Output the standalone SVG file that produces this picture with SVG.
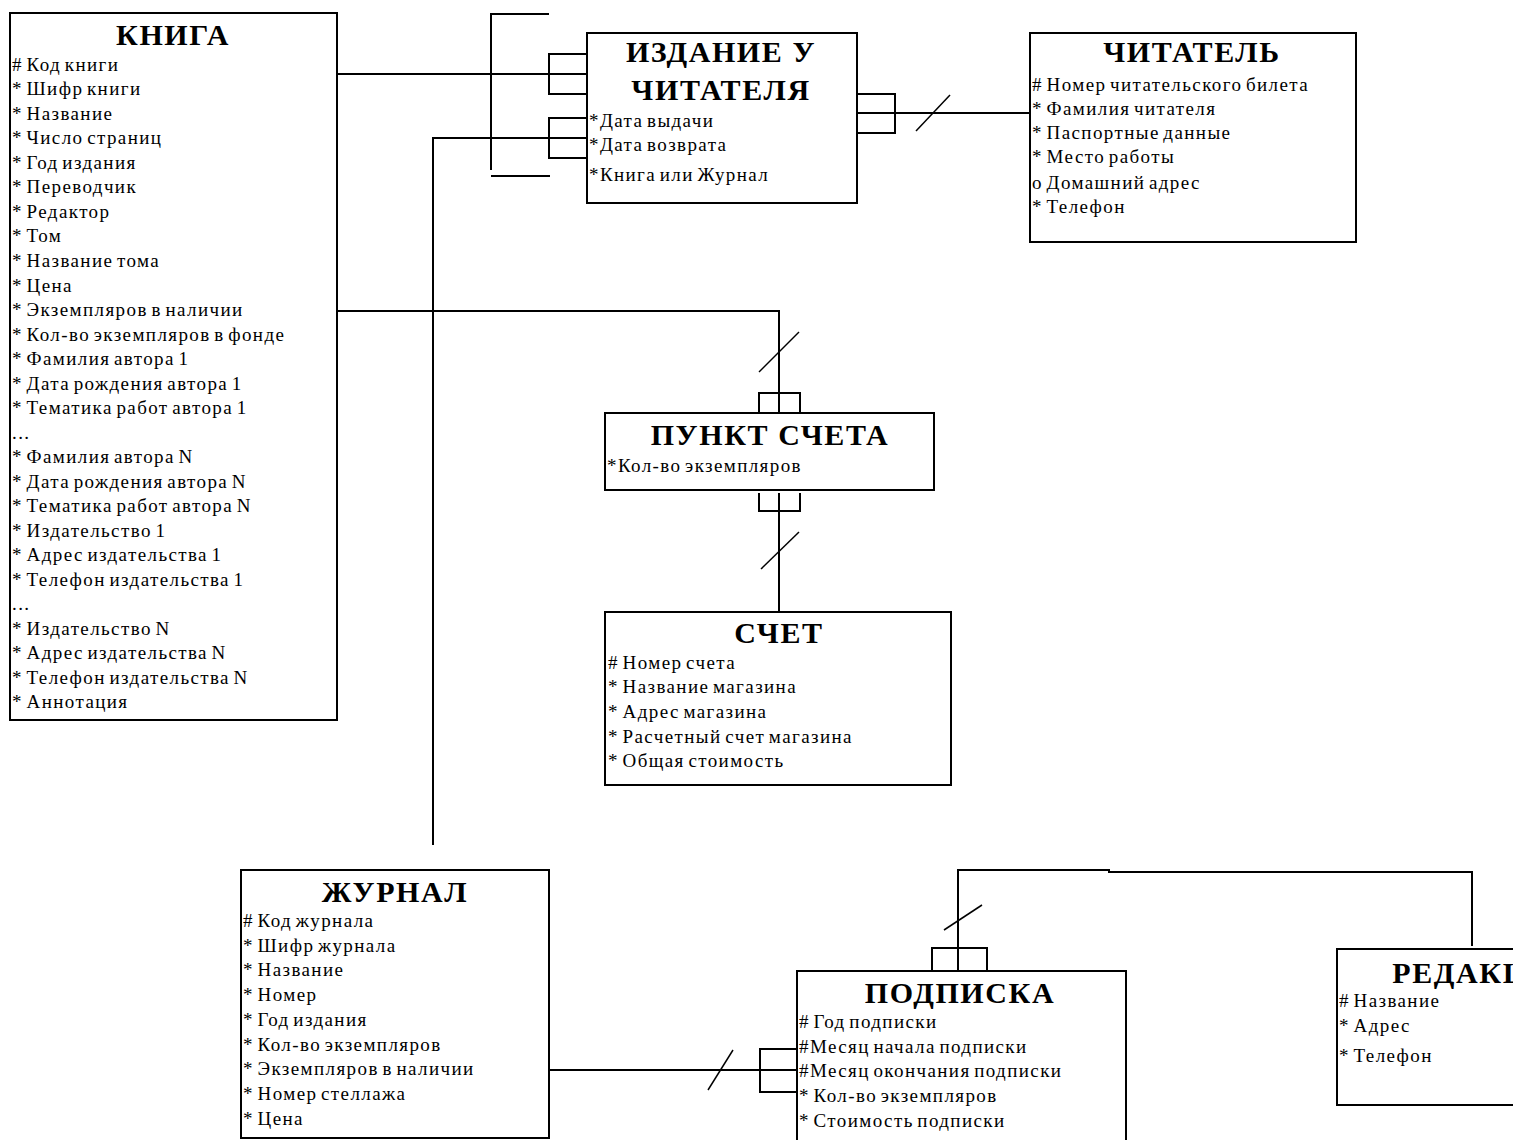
<svg xmlns="http://www.w3.org/2000/svg" width="1513" height="1140" viewBox="0 0 1513 1140">
  <style>
    .box { fill: #fff; stroke: #000; stroke-width: 2; }
    .title { font-family: "Liberation Serif", serif; font-weight: bold; font-size: 30px; letter-spacing: 1.6px; text-anchor: middle; fill: #000; }
    .attr { font-family: "Liberation Serif", serif; font-size: 19px; letter-spacing: 1.4px; word-spacing: -2.5px; fill: #000; }
    .ln { fill: none; stroke: #000; stroke-width: 2; }
    .tick { fill: none; stroke: #000; stroke-width: 1.5; }
  </style>
  <rect width="1513" height="1140" fill="#fff"/>

  <!-- relationship lines -->
  <g id="connectors">
    <!-- КНИГА — ИЗДАНИЕ У ЧИТАТЕЛЯ -->
    <path class="ln" d="M337,74 H587"/>
    <path class="ln" d="M587,54 H549 V94 H587"/>
    <path class="ln" d="M549,14 H491 V170"/>
    <path class="ln" d="M491,176 H550"/>
    <!-- ЖУРНАЛ — ИЗДАНИЕ У ЧИТАТЕЛЯ -->
    <path class="ln" d="M433,845 V138 H587"/>
    <path class="ln" d="M587,118 H549 V158 H587"/>
    <!-- ИЗДАНИЕ У ЧИТАТЕЛЯ — ЧИТАТЕЛЬ -->
    <path class="ln" d="M857,113 H1030"/>
    <path class="ln" d="M857,94 H895 V133 H857"/>
    <path class="tick" d="M916,131 L950,95"/>
    <!-- КНИГА — ПУНКТ СЧЕТА -->
    <path class="ln" d="M337,311 H779 V413"/>
    <path class="ln" d="M759,413 V393 H800 V413"/>
    <path class="tick" d="M759,372 L799,332"/>
    <!-- ПУНКТ СЧЕТА — СЧЕТ -->
    <path class="ln" d="M779,493 V612"/>
    <path class="ln" d="M759,493 V511 H800 V493"/>
    <path class="tick" d="M761,569 L799,532"/>
    <!-- ЖУРНАЛ — ПОДПИСКА -->
    <path class="ln" d="M549,1070 H797"/>
    <path class="ln" d="M797,1049 H760 V1092 H797"/>
    <path class="tick" d="M708,1090 L733,1050"/>
    <!-- РЕДАКЦИЯ — ПОДПИСКА -->
    <path class="ln" d="M958,971 V870 H1109 V872 H1472 V946"/>
    <path class="ln" d="M932,971 V948 H987 V971"/>
    <path class="tick" d="M944,930 L982,905"/>
  </g>

  <g id="kniga">
    <rect class="box" x="10" y="13" width="327" height="707"/>
    <text class="title" x="173" y="45">КНИГА</text>
    <g class="attr">
      <text x="12" y="71"># Код книги</text>
      <text x="12" y="95">* Шифр книги</text>
      <text x="12" y="120">* Название</text>
      <text x="12" y="144">* Число страниц</text>
      <text x="12" y="169">* Год издания</text>
      <text x="12" y="193">* Переводчик</text>
      <text x="12" y="218">* Редактор</text>
      <text x="12" y="242">* Том</text>
      <text x="12" y="267">* Название тома</text>
      <text x="12" y="292">* Цена</text>
      <text x="12" y="316">* Экземпляров в наличии</text>
      <text x="12" y="341">* Кол-во экземпляров в фонде</text>
      <text x="12" y="365">* Фамилия автора 1</text>
      <text x="12" y="390">* Дата рождения автора 1</text>
      <text x="12" y="414">* Тематика работ автора 1</text>
      <text x="12" y="439">...</text>
      <text x="12" y="463">* Фамилия автора N</text>
      <text x="12" y="488">* Дата рождения автора N</text>
      <text x="12" y="512">* Тематика работ автора N</text>
      <text x="12" y="537">* Издательство 1</text>
      <text x="12" y="561">* Адрес издательства 1</text>
      <text x="12" y="586">* Телефон издательства 1</text>
      <text x="12" y="610">...</text>
      <text x="12" y="635">* Издательство N</text>
      <text x="12" y="659">* Адрес издательства N</text>
      <text x="12" y="684">* Телефон издательства N</text>
      <text x="12" y="708">* Аннотация</text>
    </g>
  </g>

  <g id="izdanie">
    <rect class="box" x="587" y="33" width="270" height="170"/>
    <text class="title" x="721" y="62">ИЗДАНИЕ У</text>
    <text class="title" x="721" y="100">ЧИТАТЕЛЯ</text>
    <g class="attr">
      <text x="589" y="127">*Дата выдачи</text>
      <text x="589" y="151">*Дата возврата</text>
      <text x="589" y="181">*Книга или Журнал</text>
    </g>
  </g>

  <g id="chitatel">
    <rect class="box" x="1030" y="33" width="326" height="209"/>
    <text class="title" x="1192" y="62">ЧИТАТЕЛЬ</text>
    <g class="attr">
      <text x="1032" y="91"># Номер читательского билета</text>
      <text x="1032" y="115">* Фамилия читателя</text>
      <text x="1032" y="139">* Паспортные данные</text>
      <text x="1032" y="163">* Место работы</text>
      <text x="1032" y="189">о Домашний адрес</text>
      <text x="1032" y="213">* Телефон</text>
    </g>
  </g>

  <g id="punkt-scheta">
    <rect class="box" x="605" y="413" width="329" height="77"/>
    <text class="title" x="770" y="445">ПУНКТ СЧЕТА</text>
    <text class="attr" x="607" y="472">*Кол-во экземпляров</text>
  </g>

  <g id="schet">
    <rect class="box" x="605" y="612" width="346" height="173"/>
    <text class="title" x="779" y="643">СЧЕТ</text>
    <g class="attr">
      <text x="608" y="669"># Номер счета</text>
      <text x="608" y="693">* Название магазина</text>
      <text x="608" y="718">*  Адрес магазина</text>
      <text x="608" y="743">* Расчетный счет магазина</text>
      <text x="608" y="767">* Общая стоимость</text>
    </g>
  </g>

  <g id="zhurnal">
    <rect class="box" x="241" y="870" width="308" height="268"/>
    <text class="title" x="395" y="902">ЖУРНАЛ</text>
    <g class="attr">
      <text x="243" y="927"># Код журнала</text>
      <text x="243" y="952">* Шифр журнала</text>
      <text x="243" y="976">* Название</text>
      <text x="243" y="1001">* Номер</text>
      <text x="243" y="1026">* Год издания</text>
      <text x="243" y="1051">* Кол-во экземпляров</text>
      <text x="243" y="1075">* Экземпляров в наличии</text>
      <text x="243" y="1100">* Номер стеллажа</text>
      <text x="243" y="1125">* Цена</text>
    </g>
  </g>

  <g id="podpiska">
    <rect class="box" x="797" y="971" width="329" height="190"/>
    <text class="title" x="960" y="1003">ПОДПИСКА</text>
    <g class="attr">
      <text x="799" y="1028"># Год подписки</text>
      <text x="799" y="1053">#Месяц начала подписки</text>
      <text x="799" y="1077">#Месяц окончания подписки</text>
      <text x="799" y="1102">* Кол-во экземпляров</text>
      <text x="799" y="1127">* Стоимость подписки</text>
    </g>
  </g>

  <g id="redaktsiya">
    <rect class="box" x="1337" y="949" width="326" height="156"/>
    <text class="title" x="1484" y="983">РЕДАКЦИЯ</text>
    <g class="attr">
      <text x="1339" y="1007"># Название</text>
      <text x="1339" y="1032">* Адрес</text>
      <text x="1339" y="1062">* Телефон</text>
    </g>
  </g>
</svg>
